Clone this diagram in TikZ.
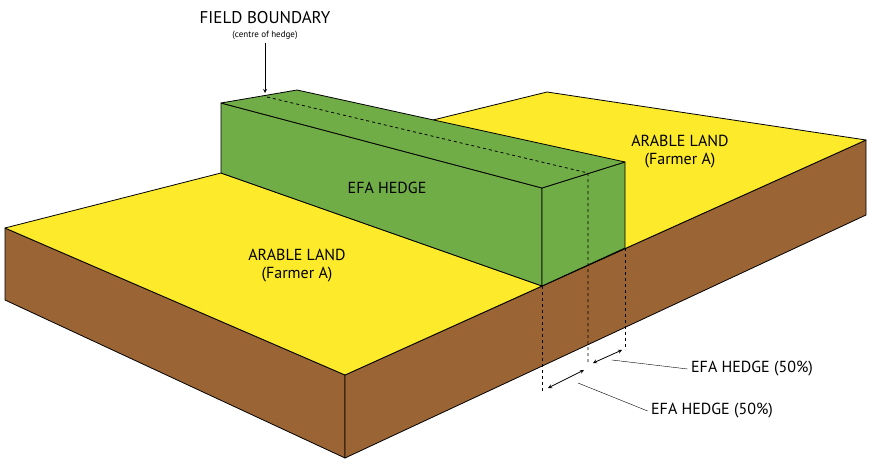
\documentclass[tikz,border=0pt]{standalone}
\usepackage{fontspec}
\setmainfont{PT Sans}
\definecolor{field}{HTML}{FCEA2B}
\definecolor{soil}{HTML}{9A6434}
\definecolor{hedge}{HTML}{70AD47}
\begin{document}
\begin{tikzpicture}[x=1pt,y=-1pt,line join=round,
  face/.style={draw,thick},
  guide/.style={draw,thin,dashed},
  label/.style={font=\fontsize{16}{18}\selectfont}]
\useasboundingbox (0,0) rectangle (874,465);
% ground
\coordinate (a) at (5,228);
\coordinate (b) at (345,375);
\coordinate (c) at (866,140);
\coordinate (a') at (5,300);
\coordinate (b') at (345,458);
\coordinate (c') at (866,215);
\coordinate (r1) at (433,120);
\coordinate (r2) at (547,92);
% hedge
\coordinate (h1) at (221,103);
\coordinate (h2) at (297,90);
\coordinate (h3) at (625,162);
\coordinate (h4) at (542,188);
\coordinate (h1') at (221,173);
\coordinate (h3') at (625,248);
\coordinate (h4') at (542,286);
\coordinate (m1) at (267,97);
\coordinate (m2) at (588,173);

\path[face,fill=soil] (a) -- (b) -- (b') -- (a') -- cycle;
\path[face,fill=soil] (b) -- (c) -- (c') -- (b') -- cycle;
\path[face,fill=field] (a) -- (h1') -- (h4') -- (b) -- cycle;
\path[face,fill=field] (r1) -- (r2) -- (c) -- (h4') -- cycle;
\path[face,fill=hedge] (h1) -- (h4) -- (h4') -- (h1') -- cycle;
\path[face,fill=hedge] (h4) -- (h3) -- (h3') -- (h4') -- cycle;
\path[face,fill=hedge] (h1) -- (h2) -- (h3) -- (h4) -- cycle;

\path[draw,thick,dashed] (m1) -- (m2) -- (588,365);
\coordinate (d1) at (542,392);
\coordinate (d2) at (588,366);
\coordinate (d3) at (625,350);
\path[guide] (h4') -- (d1);
\path[guide] (h3') -- (d3);

\path[draw,thick,<->,>=stealth] (548,388) -- (584,370);
\path[draw,thick,<->,>=stealth] (593,363) -- (622,350);

\node[label] (efa1) at (752,369) {EFA HEDGE (50\%)};
\node[label] (efa2) at (712,411) {EFA HEDGE (50\%)};
\coordinate (p1) at (612,360);
\coordinate (p2) at (578,383);
\path[draw,thin] (p1) -- (efa1.west);
\path[draw,thin] (p2) -- (efa2.west);

\node[label,font=\fontsize{17}{19}\selectfont] (fb) at (265,18) {FIELD BOUNDARY};
\node[font=\fontsize{9}{10}\selectfont] (fbs) at (265,35) {(centre of hedge)};
\path[draw,thick,->,>=stealth] (fbs.south) -- (265,93);

\node[label,align=center] (hd) at (387,188) {EFA HEDGE};
\node[label,align=center] (al) at (297,266) {ARABLE LAND\\(Farmer A)};
\node[label,align=center] (ar) at (680,152) {ARABLE LAND\\(Farmer A)};
\end{tikzpicture}
\end{document}
